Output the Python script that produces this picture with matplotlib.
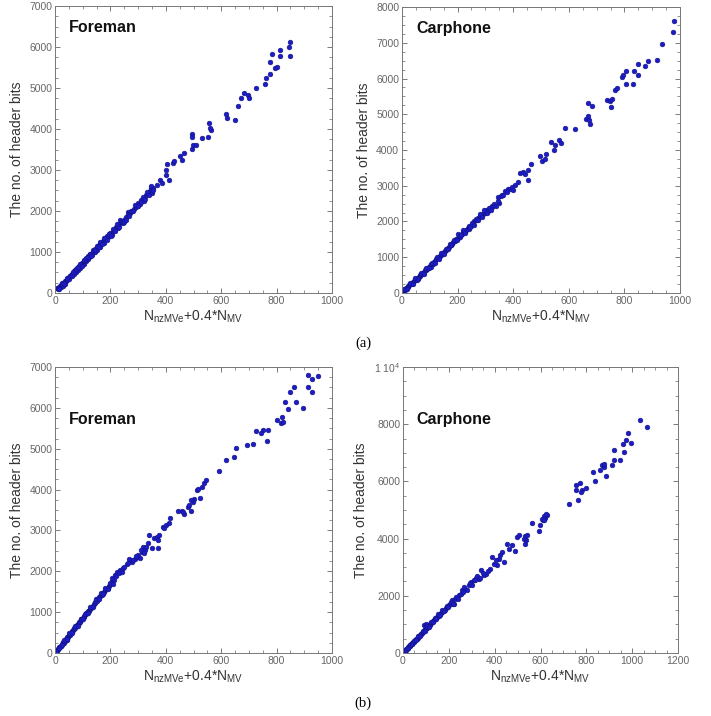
import matplotlib
matplotlib.use("Agg")
import matplotlib.pyplot as plt
from matplotlib.ticker import MultipleLocator, FixedLocator

plt.rcParams['font.family'] = ['Liberation Sans', 'DejaVu Sans']
plt.rcParams['mathtext.fontset'] = 'custom'
plt.rcParams['mathtext.rm'] = 'Liberation Sans'
plt.rcParams['mathtext.it'] = 'Liberation Sans'

# ---- (a) Foreman ----
fa_x = [8, 12, 15, 18, 20, 22, 25, 27, 30, 32, 35, 37, 40, 42, 45, 47, 50, 52, 55, 58,
        60, 62, 65, 68, 70, 72, 75, 78, 80, 83, 85, 88, 90, 93, 95, 98, 100, 103, 105, 108,
        110, 113, 115, 118, 120, 124, 127, 130, 133, 136, 140, 143, 146, 150, 153, 156, 160,
        164, 168, 172, 176, 180, 184, 188, 192, 196, 200, 205, 210, 215, 220, 226, 232, 238,
        245, 252, 258, 262, 265, 270, 278, 285, 292, 298, 305, 312, 320, 328, 335, 342, 348,
        349, 355, 368, 380, 386, 400, 399, 404, 410, 425, 431, 452, 458, 464, 493, 493, 494,
        497, 510, 530, 551, 563, 558, 557, 620, 618, 648, 660, 672, 682, 697, 700, 724, 757,
        761, 776, 776, 782, 795, 801, 811, 811, 843, 847, 847]
fa_y = [110, 95, 150, 160, 135, 190, 210, 175, 240, 250, 230, 290, 300, 330, 310, 360, 380,
        350, 420, 440, 410, 470, 490, 460, 530, 550, 520, 580, 600, 570, 640, 650, 620, 700,
        690, 730, 740, 710, 780, 800, 770, 830, 860, 820, 900, 880, 940, 960, 920, 1010, 1030,
        990, 1080, 1100, 1060, 1150, 1170, 1130, 1230, 1260, 1210, 1330, 1310, 1380, 1360,
        1430, 1470, 1420, 1520, 1560, 1610, 1580, 1680, 1720, 1700, 1800, 1850, 1980, 1930,
        1940, 2000, 2050, 2100, 2200, 2180, 2280, 2250, 2380, 2420, 2480, 2550,
        2437, 2559, 2640, 2762, 2681, 2884, 2989, 3152, 2762, 3168, 3225, 3331, 3249, 3412,
        3875, 3802, 3509, 3599, 3599, 3778, 3802, 3981, 4021, 4143, 4265, 4371, 4224, 4549,
        4768, 4874, 4834, 4768, 4996, 5094, 5240, 5345, 5646, 5824, 5483, 5524, 5930, 5784,
        6010, 6133, 5784]
fa_x2 = [15, 24, 33, 44, 53, 63, 66, 74, 82, 91, 97, 104, 112, 119, 125, 131, 138, 145,
         152, 158, 163, 170, 178, 186, 194, 202, 208, 218, 224, 230, 236, 243, 250, 256,
         268, 275, 282, 290, 300, 310, 318, 325, 332, 340, 345, 352]
fa_y2 = [90, 240, 210, 370, 420, 430, 520, 580, 640, 710, 670, 800, 860, 890, 950, 900,
         1060, 1040, 1140, 1110, 1240, 1200, 1350, 1290, 1440, 1390, 1560, 1520, 1680, 1620,
         1790, 1760, 1720, 1790, 1880, 2010, 1990, 2150, 2130, 2230, 2350, 2290, 2460, 2400,
         2600, 2500]

# ---- (a) Carphone ----
ca_x = [3, 6, 10, 13, 16, 20, 23, 26, 30, 33, 36, 40, 43, 46, 50, 53, 56, 60, 63, 66, 70,
        73, 76, 80, 83, 86, 90, 93, 96, 100, 103, 106, 110, 113, 116, 120, 124, 128, 132,
        136, 140, 144, 148, 152, 156, 160, 165, 170, 175, 180, 185, 190, 195, 200, 205, 210,
        215, 220, 225, 230, 236, 242, 248, 255, 260, 268, 275, 282, 290, 297, 302, 310, 318,
        325, 323, 350, 347, 359, 371, 383, 389, 407, 419, 423, 437, 443, 452, 455, 465, 497,
        503, 515, 517, 536, 548, 551, 565, 572, 587, 623, 677, 662, 671, 668, 668, 683, 737,
        752, 748, 754, 766, 772, 805, 790, 796, 805, 832, 850, 836, 848, 874, 886, 919, 937,
        976, 980]
ca_y = [40, 80, 90, 120, 140, 170, 200, 220, 250, 240, 280, 310, 330, 360, 390, 370, 420,
        450, 470, 500, 530, 520, 570, 600, 630, 650, 680, 700, 730, 760, 740, 800, 820, 850,
        880, 900, 940, 970, 1000, 1030, 1060, 1090, 1120, 1150, 1180, 1210, 1250, 1300, 1340,
        1380, 1420, 1450, 1500, 1540, 1600, 1580, 1650, 1700, 1720, 1760, 1820, 1800, 1880,
        1950, 2000, 2050, 2100, 2150, 2200, 2250, 2320, 2290, 2380, 2420, 2413, 2506, 2691,
        2738, 2858, 2896, 2923, 3007, 3109, 3360, 3388, 3323, 3156, 3434, 3620, 3824, 3694,
        3759, 3879, 4223, 4009, 4130, 4270, 4195, 4622, 4594, 4733, 4873, 4845, 4965, 5309,
        5244, 5411, 5216, 5383, 5429, 5680, 5735, 5847, 6051, 6107, 6200, 5847, 6107, 6218,
        6404, 6358, 6497, 6515, 6960, 7313, 7610]
ca_x2 = [8, 18, 28, 38, 48, 58, 68, 78, 88, 98, 108, 118, 126, 134, 142, 150, 158, 167,
         172, 178, 188, 198, 203, 212, 218, 228, 240, 245, 252, 258, 265, 272, 280, 288,
         295, 305, 312, 320, 330, 338, 345, 355, 365, 378, 395, 400]
ca_y2 = [100, 110, 270, 260, 420, 400, 560, 540, 710, 700, 850, 850, 1010, 960, 1120,
         1080, 1240, 1220, 1380, 1330, 1480, 1470, 1640, 1620, 1760, 1690, 1880, 1850, 1960,
         1900, 2080, 2030, 2220, 2130, 2310, 2250, 2380, 2330, 2480, 2430, 2560, 2700, 2740,
         2830, 2960, 2880]

# ---- (b) Foreman ----
fb_x = [2, 5, 8, 10, 12, 15, 18, 20, 22, 25, 28, 30, 32, 35, 38, 40, 42, 45, 48, 50, 53,
        55, 58, 60, 63, 65, 68, 70, 73, 75, 78, 80, 83, 85, 88, 90, 93, 95, 98, 100, 103,
        106, 110, 113, 116, 120, 123, 126, 130, 133, 136, 140, 143, 146, 150, 153, 156, 160,
        164, 168, 172, 176, 180, 185, 190, 195, 200, 206, 212, 205, 217, 223, 235, 247, 259,
        271, 277, 289, 298, 301, 313, 319, 325, 337, 340, 349, 358, 367, 373, 377, 373, 389,
        395, 400, 412, 415, 445, 457, 467, 463, 479, 485, 490, 503, 497, 490, 523, 514, 517,
        532, 536, 544, 593, 617, 647, 653, 714, 694, 767, 768, 750, 743, 726, 816, 822, 821,
        800, 894, 840, 870, 830, 848, 863, 929, 912, 951, 927, 914]
fb_y = [20, 60, 50, 100, 90, 140, 150, 180, 170, 220, 240, 260, 250, 300, 320, 340, 330,
        390, 400, 430, 450, 470, 490, 520, 540, 560, 580, 600, 620, 650, 660, 690, 700, 740,
        760, 770, 800, 820, 830, 860, 880, 900, 950, 970, 990, 1020, 1040, 1080, 1100, 1130,
        1160, 1190, 1220, 1260, 1280, 1310, 1330, 1370, 1400, 1430, 1470, 1500, 1540, 1560,
        1600, 1650, 1700, 1750, 1780, 1831, 1913, 1994, 2035, 2075, 2173, 2279, 2238, 2303,
        2360, 2401, 2482, 2604, 2523, 2686, 2881, 2564, 2824, 2849, 2767, 2889, 2580, 3091,
        3052, 3133, 3174, 3297, 3483, 3483, 3394, 3458, 3580, 3622, 3483, 3762, 3703, 3745,
        3787, 3990, 4007, 4071, 4169, 4234, 4455, 4724, 4805, 5010, 5107, 5091, 5189, 5458,
        5458, 5392, 5434, 5637, 5661, 5769, 5703, 5990, 5965, 6136, 6151, 6396, 6503, 6396,
        6503, 6787, 6706, 6804]
fb_x2 = [4, 13, 24, 34, 44, 52, 62, 72, 82, 92, 102, 108, 118, 128, 138, 148, 158, 166,
         174, 182, 192, 198, 210, 220, 230, 240, 250, 262, 268, 280, 292, 305, 310, 322, 330]
fb_y2 = [30, 130, 190, 320, 350, 480, 500, 650, 660, 840, 840, 960, 980, 1120, 1130, 1310,
         1320, 1460, 1440, 1580, 1570, 1720, 1700, 1880, 1960, 1990, 2100, 2200, 2310, 2280,
         2380, 2330, 2520, 2450, 2600]

# ---- (b) Carphone ----
cb_x = [2, 5, 8, 11, 14, 17, 20, 23, 26, 29, 32, 35, 38, 41, 44, 47, 50, 54, 57, 60, 64,
        67, 70, 74, 77, 80, 84, 88, 91, 95, 98, 102, 105, 109, 112, 116, 120, 124, 128, 132,
        136, 140, 145, 150, 155, 160, 165, 170, 176, 182, 188, 194, 200, 206, 92, 100, 221,
        214, 228, 246, 257, 272, 287, 298, 308, 319, 330, 342, 352, 362, 381, 388, 410, 420,
        439, 425, 432, 487, 454, 464, 476, 497, 505, 534, 538, 527, 531, 541, 563, 592, 599,
        609, 621, 628, 614, 607, 617, 625, 726, 764, 756, 755, 774, 781, 777, 800, 839, 827,
        886, 858, 868, 875, 878, 945, 919, 912, 919, 966, 958, 995, 974, 980, 1065, 1036]
cb_y = [30, 50, 80, 100, 130, 150, 180, 200, 230, 240, 280, 300, 320, 350, 370, 400, 420,
        450, 480, 500, 540, 560, 590, 620, 650, 680, 700, 740, 770, 800, 830, 870, 890, 920,
        950, 990, 1010, 1050, 1080, 1120, 1150, 1190, 1220, 1270, 1310, 1350, 1390, 1430,
        1480, 1520, 1570, 1620, 1680, 1720, 980, 1020, 1725, 1841, 1900, 2016, 2191, 2249,
        2389, 2483, 2541, 2622, 2599, 2890, 2716, 2774, 2949, 3357, 3089, 3275, 3182, 3415,
        3531, 3555, 3800, 3648, 3765, 4056, 4138, 3823, 3939, 3998, 4079, 4114, 4557, 4254,
        4464, 4662, 4720, 4837, 4780, 4699, 4640, 4850, 5199, 5339, 5864, 5689, 5944, 5713,
        5629, 5783, 6028, 6343, 6178, 6413, 6563, 6503, 6622, 6737, 6737, 6563, 7112, 7028,
        7297, 7343, 7437, 7692, 7902, 8161]
cb_x2 = [4, 12, 22, 30, 40, 48, 58, 66, 76, 86, 96, 106, 114, 122, 130, 138, 146, 154,
         162, 172, 180, 190, 198, 210, 218, 232, 240, 252, 262, 268, 280, 292, 300, 315,
         325, 335, 350, 370, 395, 405]
cb_y2 = [20, 120, 170, 280, 330, 430, 470, 590, 610, 770, 780, 930, 920, 1080, 1070, 1220,
         1200, 1350, 1330, 1490, 1480, 1640, 1600, 1800, 1700, 1960, 1880, 2080, 2150, 2300,
         2220, 2450, 2380, 2550, 2700, 2620, 2780, 2850, 3100, 3250]

x_label = r'N$_{\mathrm{nzMVe}}$+0.4*N$_{\mathrm{MV}}$'
y_label = 'The no. of header bits'

fig = plt.figure(figsize=(7.11, 7.16), dpi=100)

panels = [
    dict(x=fa_x + fa_x2, y=fa_y + fa_y2, name='Foreman',
         rect=[0.0774, 0.5908, 0.3896, 0.4008],
         xlim=1000, xmaj=200, ylim=7000, ymaj=1000, title_y=0.925),
    dict(x=ca_x + ca_x2, y=ca_y + ca_y2, name='Carphone',
         rect=[0.5654, 0.5908, 0.3910, 0.3994],
         xlim=1000, xmaj=200, ylim=8000, ymaj=1000, title_y=0.925),
    dict(x=fb_x + fb_x2, y=fb_y + fb_y2, name='Foreman',
         rect=[0.0774, 0.0880, 0.3896, 0.3994],
         xlim=1000, xmaj=200, ylim=7000, ymaj=1000, title_y=0.815),
    dict(x=cb_x + cb_x2, y=cb_y + cb_y2, name='Carphone',
         rect=[0.5668, 0.0880, 0.3868, 0.3994],
         xlim=1200, xmaj=200, ylim=10000, ymaj=2000, title_y=0.815),
]

tick_grey = '#666666'
for p in panels:
    ax = fig.add_axes(p['rect'])
    ax.plot(p['x'], p['y'], linestyle='none', marker='o', markersize=3.4,
            markerfacecolor='#1c1cc8', markeredgecolor='#14147e', markeredgewidth=0.4)
    ax.set_xlim(0, p['xlim'])
    ax.set_ylim(0, p['ylim'])
    ax.xaxis.set_major_locator(MultipleLocator(p['xmaj']))
    ax.xaxis.set_minor_locator(MultipleLocator(p['xmaj'] / 4))
    ax.yaxis.set_major_locator(MultipleLocator(p['ymaj']))
    ax.yaxis.set_minor_locator(MultipleLocator(p['ymaj'] / 4))
    if p['ylim'] == 10000:
        ticks = list(range(0, 10001, 2000))
        ax.yaxis.set_major_locator(FixedLocator(ticks))
        ax.set_yticklabels([str(t) for t in ticks[:-1]] + [r'1 10$^4$'])
    ax.tick_params(which='both', direction='in', top=True, right=True,
                   colors=tick_grey, labelsize=7.5, pad=2)
    ax.tick_params(which='major', length=3.5, width=0.6)
    ax.tick_params(which='minor', length=2, width=0.5)
    for s in ax.spines.values():
        s.set_color('#777777')
        s.set_linewidth(0.7)
    ax.set_xlabel(x_label, fontsize=10, color='#333333', labelpad=2)
    ax.set_ylabel(y_label, fontsize=10, color='#333333', labelpad=4)
    ax.text(0.05, p['title_y'], p['name'], transform=ax.transAxes, fontsize=11.5,
            fontweight='bold', color='#111111', ha='left', va='center')

fig.text(363 / 711, 1 - 343 / 716, '(a)', fontsize=10.5, family='Liberation Serif',
         ha='center', va='center')
fig.text(363 / 711, 1 - 703 / 716, '(b)', fontsize=10.5, family='Liberation Serif',
         ha='center', va='center')

fig.savefig('out.png', dpi=100, facecolor='white')
